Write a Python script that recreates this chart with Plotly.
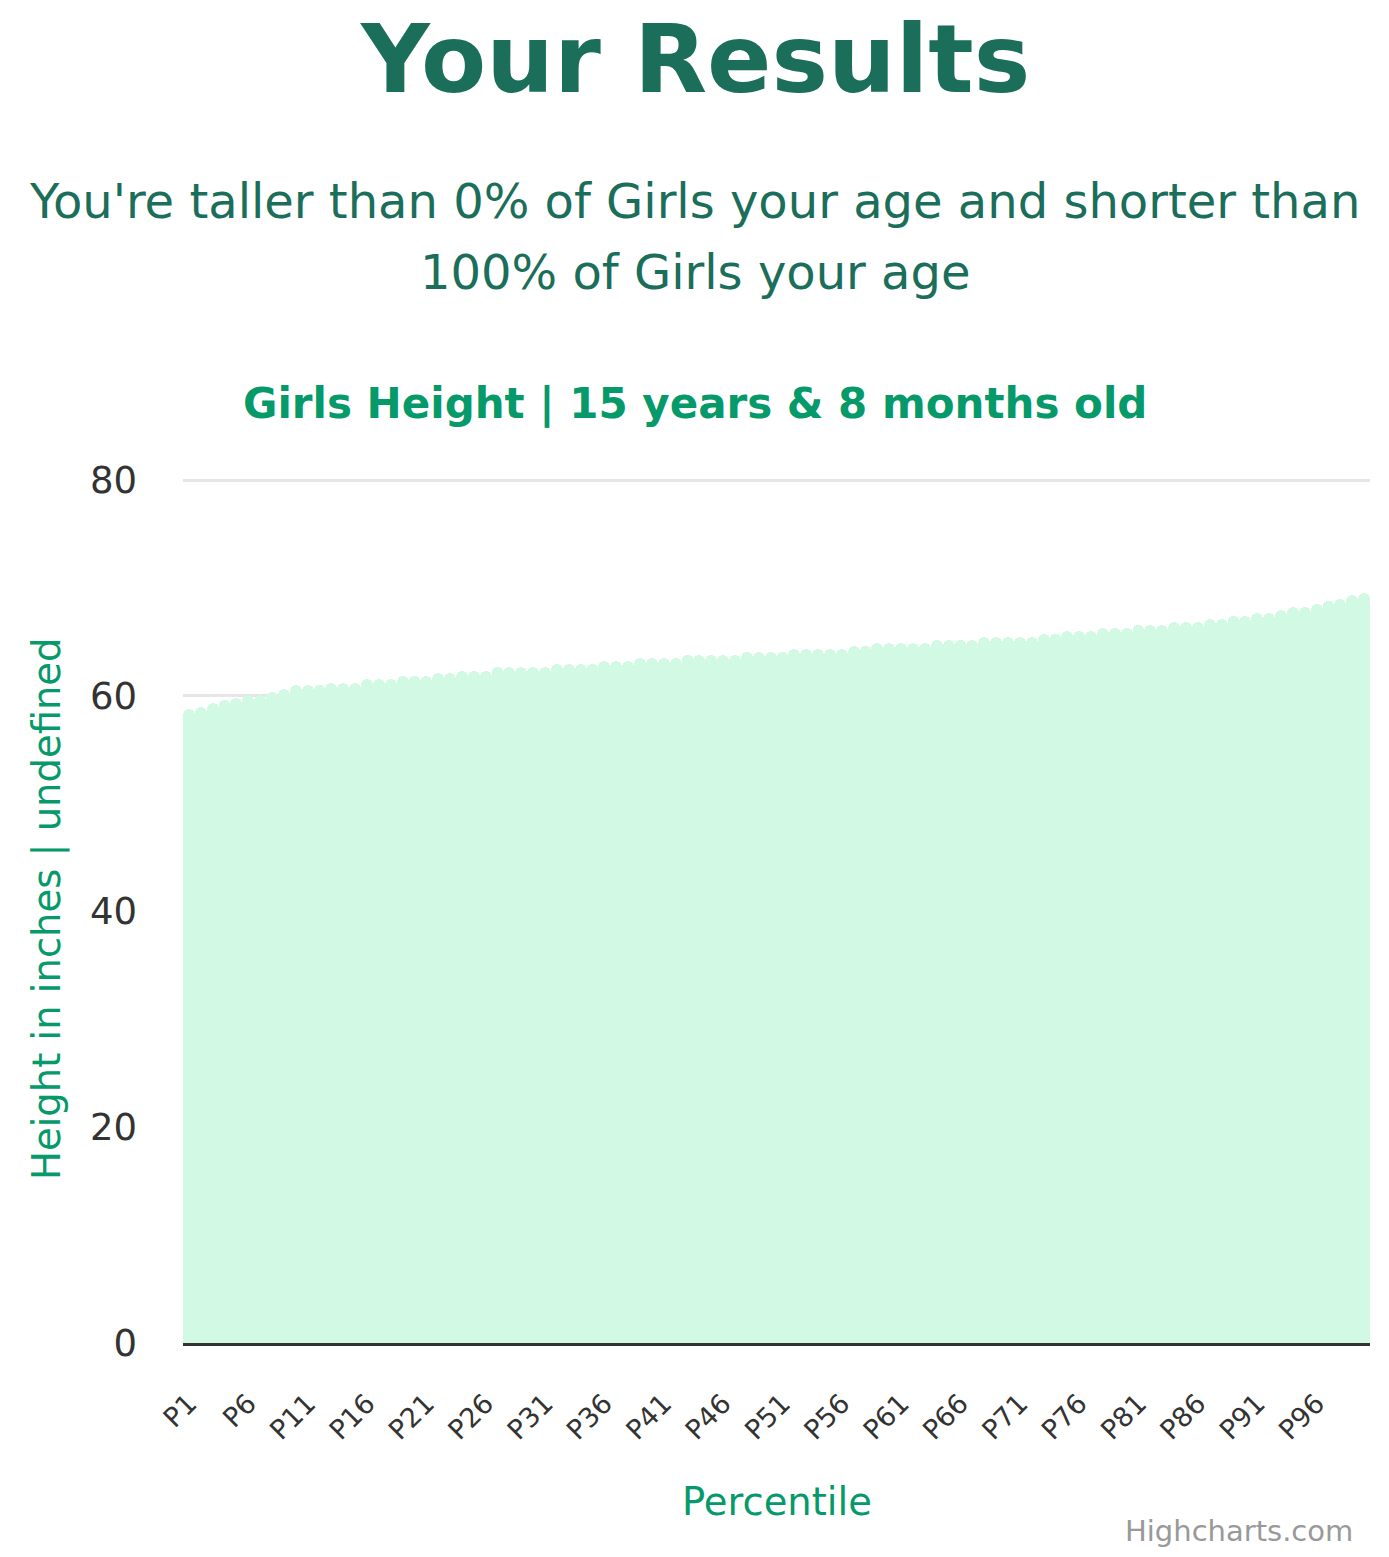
import plotly.graph_objects as go

percentiles = ["P1","P2","P3","P4","P5","P6","P7","P8","P9","P10",
               "P11","P12","P13","P14","P15","P16","P17","P18","P19","P20",
               "P21","P22","P23","P24","P25","P26","P27","P28","P29","P30",
               "P31","P32","P33","P34","P35","P36","P37","P38","P39","P40",
               "P41","P42","P43","P44","P45","P46","P47","P48","P49","P50",
               "P51","P52","P53","P54","P55","P56","P57","P58","P59","P60",
               "P61","P62","P63","P64","P65","P66","P67","P68","P69","P70",
               "P71","P72","P73","P74","P75","P76","P77","P78","P79","P80",
               "P81","P82","P83","P84","P85","P86","P87","P88","P89","P90",
               "P91","P92","P93","P94","P95","P96","P97","P98","P99","P100"]

heights = [58.74, 58.98, 59.30, 59.58, 59.82, 60.10, 60.10, 60.38, 60.65, 60.97,
           60.97, 60.97, 61.21, 61.21, 61.21, 61.53, 61.53, 61.53, 61.83, 61.83,
           61.83, 62.08, 62.08, 62.32, 62.32, 62.32, 62.64, 62.64, 62.64, 62.64,
           62.64, 62.90, 62.90, 62.90, 62.90, 63.19, 63.19, 63.19, 63.47, 63.47,
           63.47, 63.47, 63.75, 63.75, 63.75, 63.75, 63.75, 64.03, 64.03, 64.03,
           64.03, 64.31, 64.31, 64.31, 64.31, 64.31, 64.58, 64.58, 64.86, 64.86,
           64.86, 64.86, 64.86, 65.14, 65.14, 65.14, 65.14, 65.42, 65.42, 65.42,
           65.42, 65.42, 65.70, 65.70, 65.98, 65.98, 65.98, 66.25, 66.25, 66.25,
           66.53, 66.53, 66.53, 66.81, 66.81, 66.81, 67.09, 67.09, 67.39, 67.39,
           67.64, 67.64, 67.95, 68.20, 68.20, 68.48, 68.76, 69.00, 69.31, 69.55]

x_tick_labels = ["P1","P6","P11","P16","P21","P26","P31","P36","P41","P46",
                 "P51","P56","P61","P66","P71","P76","P81","P86","P91","P96"]
y_tick_values = [0, 20, 40, 60, 80]

main_title = "Your Results"
subtitle_lines = ["You're taller than 0% of Girls your age and shorter than",
                  "100% of Girls your age"]
chart_title = "Girls Height | 15 years & 8 months old"
y_title = "Height in inches | undefined"
x_title = "Percentile"
credits = "Highcharts.com"

# page offset (browser body margin)
OFF = 8
W, H = 1389 - OFF, 1557 - OFF
# plot area top is a few px above the 80 gridline so the gridline is drawn
L, R, T, B = 183 - OFF, 1370 - OFF, 476 - OFF, 1343 - OFF
PW, PH = R - L, B - T
YMAX = 80.0 * PH / (1343 - 480)


def px(x):
    return (x - OFF - L) / PW


def py(y):
    return (B - (y - OFF)) / PH


FONT = "DejaVu Sans"
DARK = "#1a6e5a"
GREEN = "#06996a"

fig = go.Figure()
fig.add_trace(go.Bar(
    x=percentiles, y=heights,
    marker=dict(color="#d1f9e3", line=dict(width=0)),
    hoverinfo="x+y",
))

annotations = [
    dict(text="<b>" + main_title + "</b>", x=px(694.5), y=py(59),
         font=dict(family=FONT, size=95, color=DARK)),
    dict(text=subtitle_lines[0], x=px(694.5), y=py(200.5),
         font=dict(family=FONT, size=48, color=DARK)),
    dict(text=subtitle_lines[1], x=px(694.5), y=py(272.5),
         font=dict(family=FONT, size=48, color=DARK)),
    dict(text="<b>" + chart_title + "</b>", x=px(694.5), y=py(403.5),
         font=dict(family=FONT, size=42, color=GREEN)),
    dict(text=y_title, x=px(47), y=py(909), textangle=-90,
         font=dict(family=FONT, size=38.5, color=GREEN)),
    dict(text=x_title, x=px(776.5), y=py(1501),
         font=dict(family=FONT, size=38.5, color=GREEN)),
]
for a in annotations:
    a.update(xref="paper", yref="paper", xanchor="center", yanchor="middle",
             showarrow=False)
annotations.append(dict(text=credits, x=px(1355), y=py(1531), xref="paper",
                        yref="paper", xanchor="right", yanchor="middle",
                        showarrow=False,
                        font=dict(family=FONT, size=29, color="#999999")))

fig.update_layout(
    width=W, height=H,
    margin=dict(l=L, r=W - R, t=T, b=H - B, pad=0),
    paper_bgcolor="white", plot_bgcolor="white",
    bargap=0, barcornerradius="50%",
    showlegend=False,
    font=dict(family=FONT, color="#333333"),
    annotations=annotations,
    xaxis=dict(
        type="category", tickmode="array", tickvals=x_tick_labels,
        ticktext=x_tick_labels, tickangle=-45,
        tickfont=dict(family=FONT, size=27, color="#333333"),
        showgrid=False, showline=True, linecolor="#333333", linewidth=3,
        ticks="", ticklabelstandoff=31, layer="above traces",
        range=[-0.5, 99.5],
    ),
    yaxis=dict(
        range=[0, YMAX], tickmode="array", tickvals=y_tick_values,
        tickfont=dict(family=FONT, size=37, color="#333333"),
        showgrid=True, gridcolor="#e6e6e6", gridwidth=3,
        zeroline=False, showline=False, ticks="",
        ticklabelstandoff=45,
    ),
)

fig.write_html("out.html")
